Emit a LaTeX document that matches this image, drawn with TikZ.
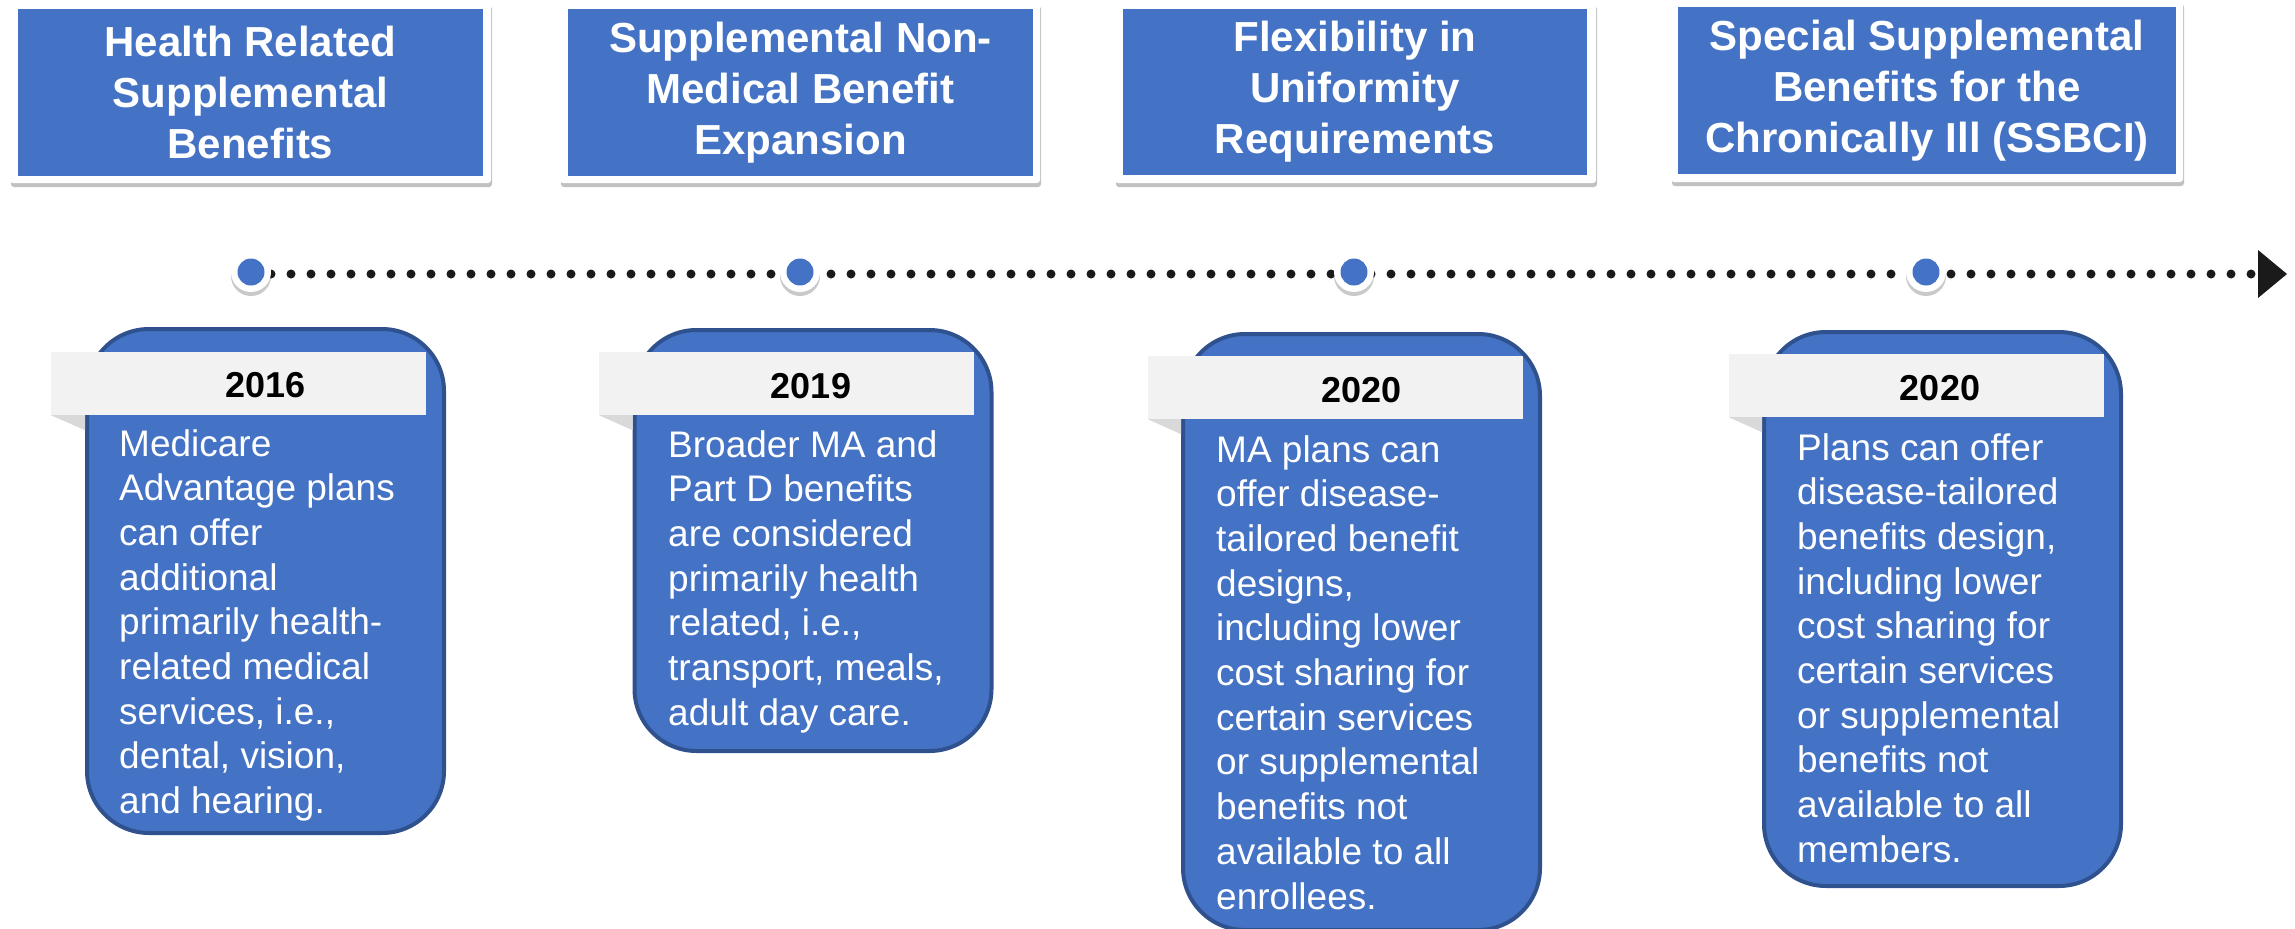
\documentclass[tikz,border=0pt]{standalone}
\usepackage{fontspec}
\setmainfont{Liberation Sans}
\usetikzlibrary{shadows}
\definecolor{mblue}{HTML}{4472C4}
\definecolor{mborder}{HTML}{2F528F}
\definecolor{bannergray}{HTML}{F2F2F2}
\definecolor{foldgray}{HTML}{D9D9D9}
\definecolor{dotblack}{HTML}{1A1A1A}
\newcommand\titlefont{\fontsize{42}{51}\selectfont\bfseries}
\newcommand\yearfont{\fontsize{36}{40}\selectfont\bfseries}
\newcommand\bodyfont{\fontsize{37}{44.7}\selectfont}
\newcommand\bodylines[1]{\begin{tabular}[t]{@{}l@{}}#1\end{tabular}}
\begin{document}
\begin{tikzpicture}[x=1pt,y=-1pt,
  frame/.style={fill=white, rounded corners=3pt, inner sep=0,
    drop shadow={shadow xshift=1pt, shadow yshift=-4pt, opacity=0.35, fill=black!70}},
  tblue/.style={fill=mblue, inner sep=0, text=white, font=\titlefont, align=center},
  ring/.style={circle, fill=white, minimum size=40pt, inner sep=0,
    drop shadow={shadow xshift=0pt, shadow yshift=-4pt, opacity=0.3, fill=black!70}},
  core/.style={circle, fill=mblue, minimum size=27pt, inner sep=0},
  dotline/.style={draw=dotblack, line width=9pt, line cap=round, dash pattern=on 0pt off 20pt},
  rbox/.style={draw=mborder, line width=4pt, fill=mblue, rounded corners=62pt, inner sep=0, minimum width=357pt},
  banner/.style={fill=bannergray, inner sep=0, minimum width=375pt, minimum height=63pt},
  yeartxt/.style={anchor=base, inner sep=0, font=\yearfont, text=black},
  bodytxt/.style={anchor=base west, inner sep=0, font=\bodyfont, text=white}
]
\useasboundingbox (0,0) rectangle (2295,929);

% title boxes
\node[frame, minimum width=481pt, minimum height=181pt] (f1) at (250.5,92.5) {};
\node[frame, minimum width=480pt, minimum height=181pt] (f2) at (800,92.5) {};
\node[frame, minimum width=481pt, minimum height=181pt] (f3) at (1355.5,92.5) {};
\node[frame, minimum width=512pt, minimum height=182pt] (f4) at (1927,91) {};
\node[tblue, minimum width=465pt, minimum height=167pt] (t1) at (250.5,92.5) {Health Related\\Supplemental\\Benefits};
\node[tblue, minimum width=465pt, minimum height=167pt] (t2) at (800.5,92.5) {Supplemental Non-\\Medical Benefit\\Expansion};
\node[tblue, minimum width=464pt, minimum height=166pt] (t3) at (1355,92) {Flexibility in\\Uniformity\\Requirements};
\node[tblue, minimum width=498pt, minimum height=167pt] (t4) at (1927,90.5) {Special Supplemental\\Benefits for the\\Chronically Ill (SSBCI)};

% timeline
\coordinate (lend) at (2258,274);
\coordinate (lstart) at (251,274);
\draw[dotline] (lstart) -- (lend);
\fill[dotblack] ([yshift=24pt]lend) -- ([xshift=29pt]lend) -- ([yshift=-24pt]lend) -- cycle;
\foreach \i/\x in {1/251,2/800,3/1354,4/1926}{
  \node[ring] (r\i) at (\x,272) {};
  \node[core] (d\i) at (r\i.center) {};
}

% content boxes
\node[rbox, minimum height=504pt] (b1) at (265.5,581) {};
\node[rbox, minimum height=421pt] (b2) at (813,540.5) {};
\node[rbox, minimum height=596pt] (b3) at (1361.5,632) {};
\node[rbox, minimum height=554pt] (b4) at (1942.5,609) {};

% banners
\node[banner] (n1) at (238.5,383.5) {};
\node[banner] (n2) at (786.5,383.5) {};
\node[banner] (n3) at (1335.5,387.5) {};
\node[banner] (n4) at (1916.5,385.5) {};
\foreach \i in {1,2,3,4}{
  \fill[foldgray] (n\i.south west) -- (n\i.south west -| b\i.west) -- ([yshift=-15pt]n\i.south west -| b\i.west) -- cycle;
}

% years
\node[yeartxt] (y1) at (265.5,397) {2016};
\node[yeartxt] (y2) at (811,398) {2019};
\node[yeartxt] (y3) at (1361.5,402) {2020};
\node[yeartxt] (y4) at (1940,400) {2020};

% body texts
\node[bodytxt] (x1) at (119,456) {\bodylines{Medicare\\Advantage plans\\can offer\\additional\\primarily health-\\related medical\\services, i.e.,\\dental, vision,\\and hearing.}};
\node[bodytxt] (x2) at (668,457) {\bodylines{Broader MA and\\Part D benefits\\are considered\\primarily health\\related, i.e.,\\transport, meals,\\adult day care.}};
\node[bodytxt] (x3) at (1216,462) {\bodylines{MA plans can\\offer disease-\\tailored benefit\\designs,\\including lower\\cost sharing for\\certain services\\or supplemental\\benefits not\\available to all\\enrollees.}};
\node[bodytxt] (x4) at (1797,460) {\bodylines{Plans can offer\\disease-tailored\\benefits design,\\including lower\\cost sharing for\\certain services\\or supplemental\\benefits not\\available to all\\members.}};
\end{tikzpicture}
\end{document}
